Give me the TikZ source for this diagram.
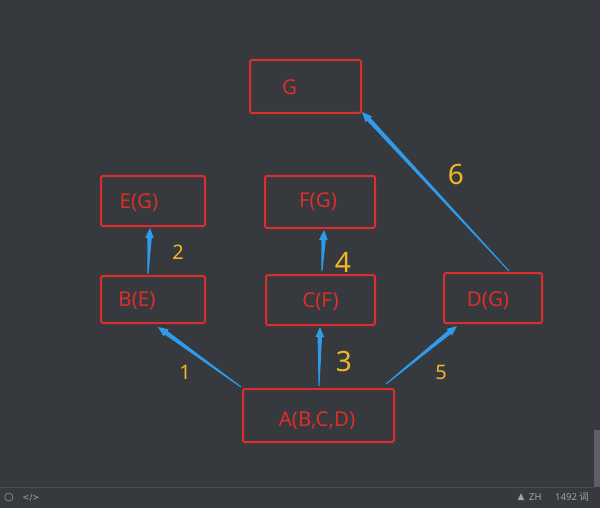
\documentclass[tikz,border=0pt]{standalone}
\usepackage{fontspec}
\setmainfont{Noto Sans}
\newfontfamily\symfont{DejaVu Sans}
\newfontfamily\cjkfont{Noto Sans CJK SC}
\usetikzlibrary{calc}
\definecolor{bgc}{HTML}{36393E}
\definecolor{barline}{HTML}{4A4D51}
\definecolor{boxred}{HTML}{DC2E2A}
\definecolor{arrowc}{HTML}{2E9CEB}
\definecolor{numc}{HTML}{F2B726}
\definecolor{statc}{HTML}{A2A5A8}
\definecolor{scrollc}{HTML}{5C5F63}
\tikzset{
  box/.style={draw=boxred, line width=2pt, rounded corners=1.5pt, rectangle, inner sep=0pt},
  lbl/.style={text=boxred, font=\fontsize{20.5}{23}\selectfont, inner sep=0pt},
  num/.style={text=numc, inner sep=0pt},
  stat/.style={text=statc, font=\fontsize{9.5}{10}\selectfont, inner sep=0pt},
}
\newcommand\taper[2]{%
  \path (#1) coordinate (ts) (#2) coordinate (te);
  \path ($(te)!10pt!(ts)$) coordinate (tb);
  \fill[arrowc] ($(ts)!0.5pt!90:(te)$) -- ($(tb)!2.2pt!-90:(ts)$) -- ($(tb)!4.3pt!-90:(ts)$)
    -- (te) -- ($(tb)!4.3pt!90:(ts)$) -- ($(tb)!2.2pt!90:(ts)$) -- ($(ts)!0.5pt!-90:(te)$) -- cycle;
}
\begin{document}
\begin{tikzpicture}[x=1pt,y=-1pt]
\fill[bgc] (0,0) rectangle (600,508);
\useasboundingbox (0,0) rectangle (600,508);
% status bar
\draw[barline, line width=1pt] (0,487) -- (594,487);
\fill[scrollc] (594,430) rectangle (600,487);
\node[stat, font=\symfont\fontsize{11}{11}\selectfont] (st1) at (9,497.5) {○};
\node[stat, font=\symfont\fontsize{8.5}{10}\selectfont] (st2) at (31,497.5) {</>};
\node[stat, font=\symfont\fontsize{9}{10}\selectfont] (st3) at (521,497) {▲};
\node[stat, anchor=west] (st4) at (529,497.5) {ZH};
\node[stat, anchor=west] (st5) at (555,497.5) {1492 {\cjkfont 词}};
% boxes
\node[box, minimum width=111pt, minimum height=53pt] (G) at (305.5,86.5) {};
\node[lbl] (Gt) at (289.5,87.5) {G};
\node[box, minimum width=104pt, minimum height=50pt] (E) at (153,201) {};
\node[lbl] (Et) at (139,202.5) {E(G)};
\node[box, minimum width=110pt, minimum height=52pt] (F) at (320,202) {};
\node[lbl] (Ft) at (318,201.5) {F(G)};
\node[box, minimum width=104pt, minimum height=47pt] (B) at (153,299.5) {};
\node[lbl] (Bt) at (137,300.5) {B(E)};
\node[box, minimum width=109pt, minimum height=50pt] (C) at (320.5,300) {};
\node[lbl] (Ct) at (320.5,301.5) {C(F)};
\node[box, minimum width=98pt, minimum height=50pt] (D) at (493,298) {};
\node[lbl] (Dt) at (488,300.5) {D(G)};
\node[box, minimum width=151pt, minimum height=53pt] (A) at (318.5,415.5) {};
\node[lbl] (At) at (317,420.5) {A(B,C,D)};
% arrows
\taper{$(A.north west)+(-1,-1)$}{$(B.south)+(5,3)$}
\taper{$(B.north)+(-5,-1)$}{$(E.south)+(-3,1)$}
\taper{$(A.north)+(0.5,-2)$}{$(C.south)+(-0.5,1)$}
\taper{$(C.north)+(1.5,-3)$}{$(F.south)+(4,1)$}
\taper{$(A.north east)+(-9,-4)$}{$(D.south west)+(14,2)$}
\taper{$(D.north)+(16,-1)$}{$(G.south east)+(0,-2)$}
% numbers
\node[num, font=\fontsize{20}{20}\selectfont] (n1) at (185,372) {1};
\node[num, font=\fontsize{20}{20}\selectfont] (n2) at (178,252) {2};
\node[num, font=\fontsize{28}{28}\selectfont] (n3) at (344,362) {3};
\node[num, font=\fontsize{28}{28}\selectfont] (n4) at (343,262) {4};
\node[num, font=\fontsize{20}{20}\selectfont] (n5) at (441,372) {5};
\node[num, font=\fontsize{28}{28}\selectfont] (n6) at (456,175) {6};
\end{tikzpicture}
\end{document}
